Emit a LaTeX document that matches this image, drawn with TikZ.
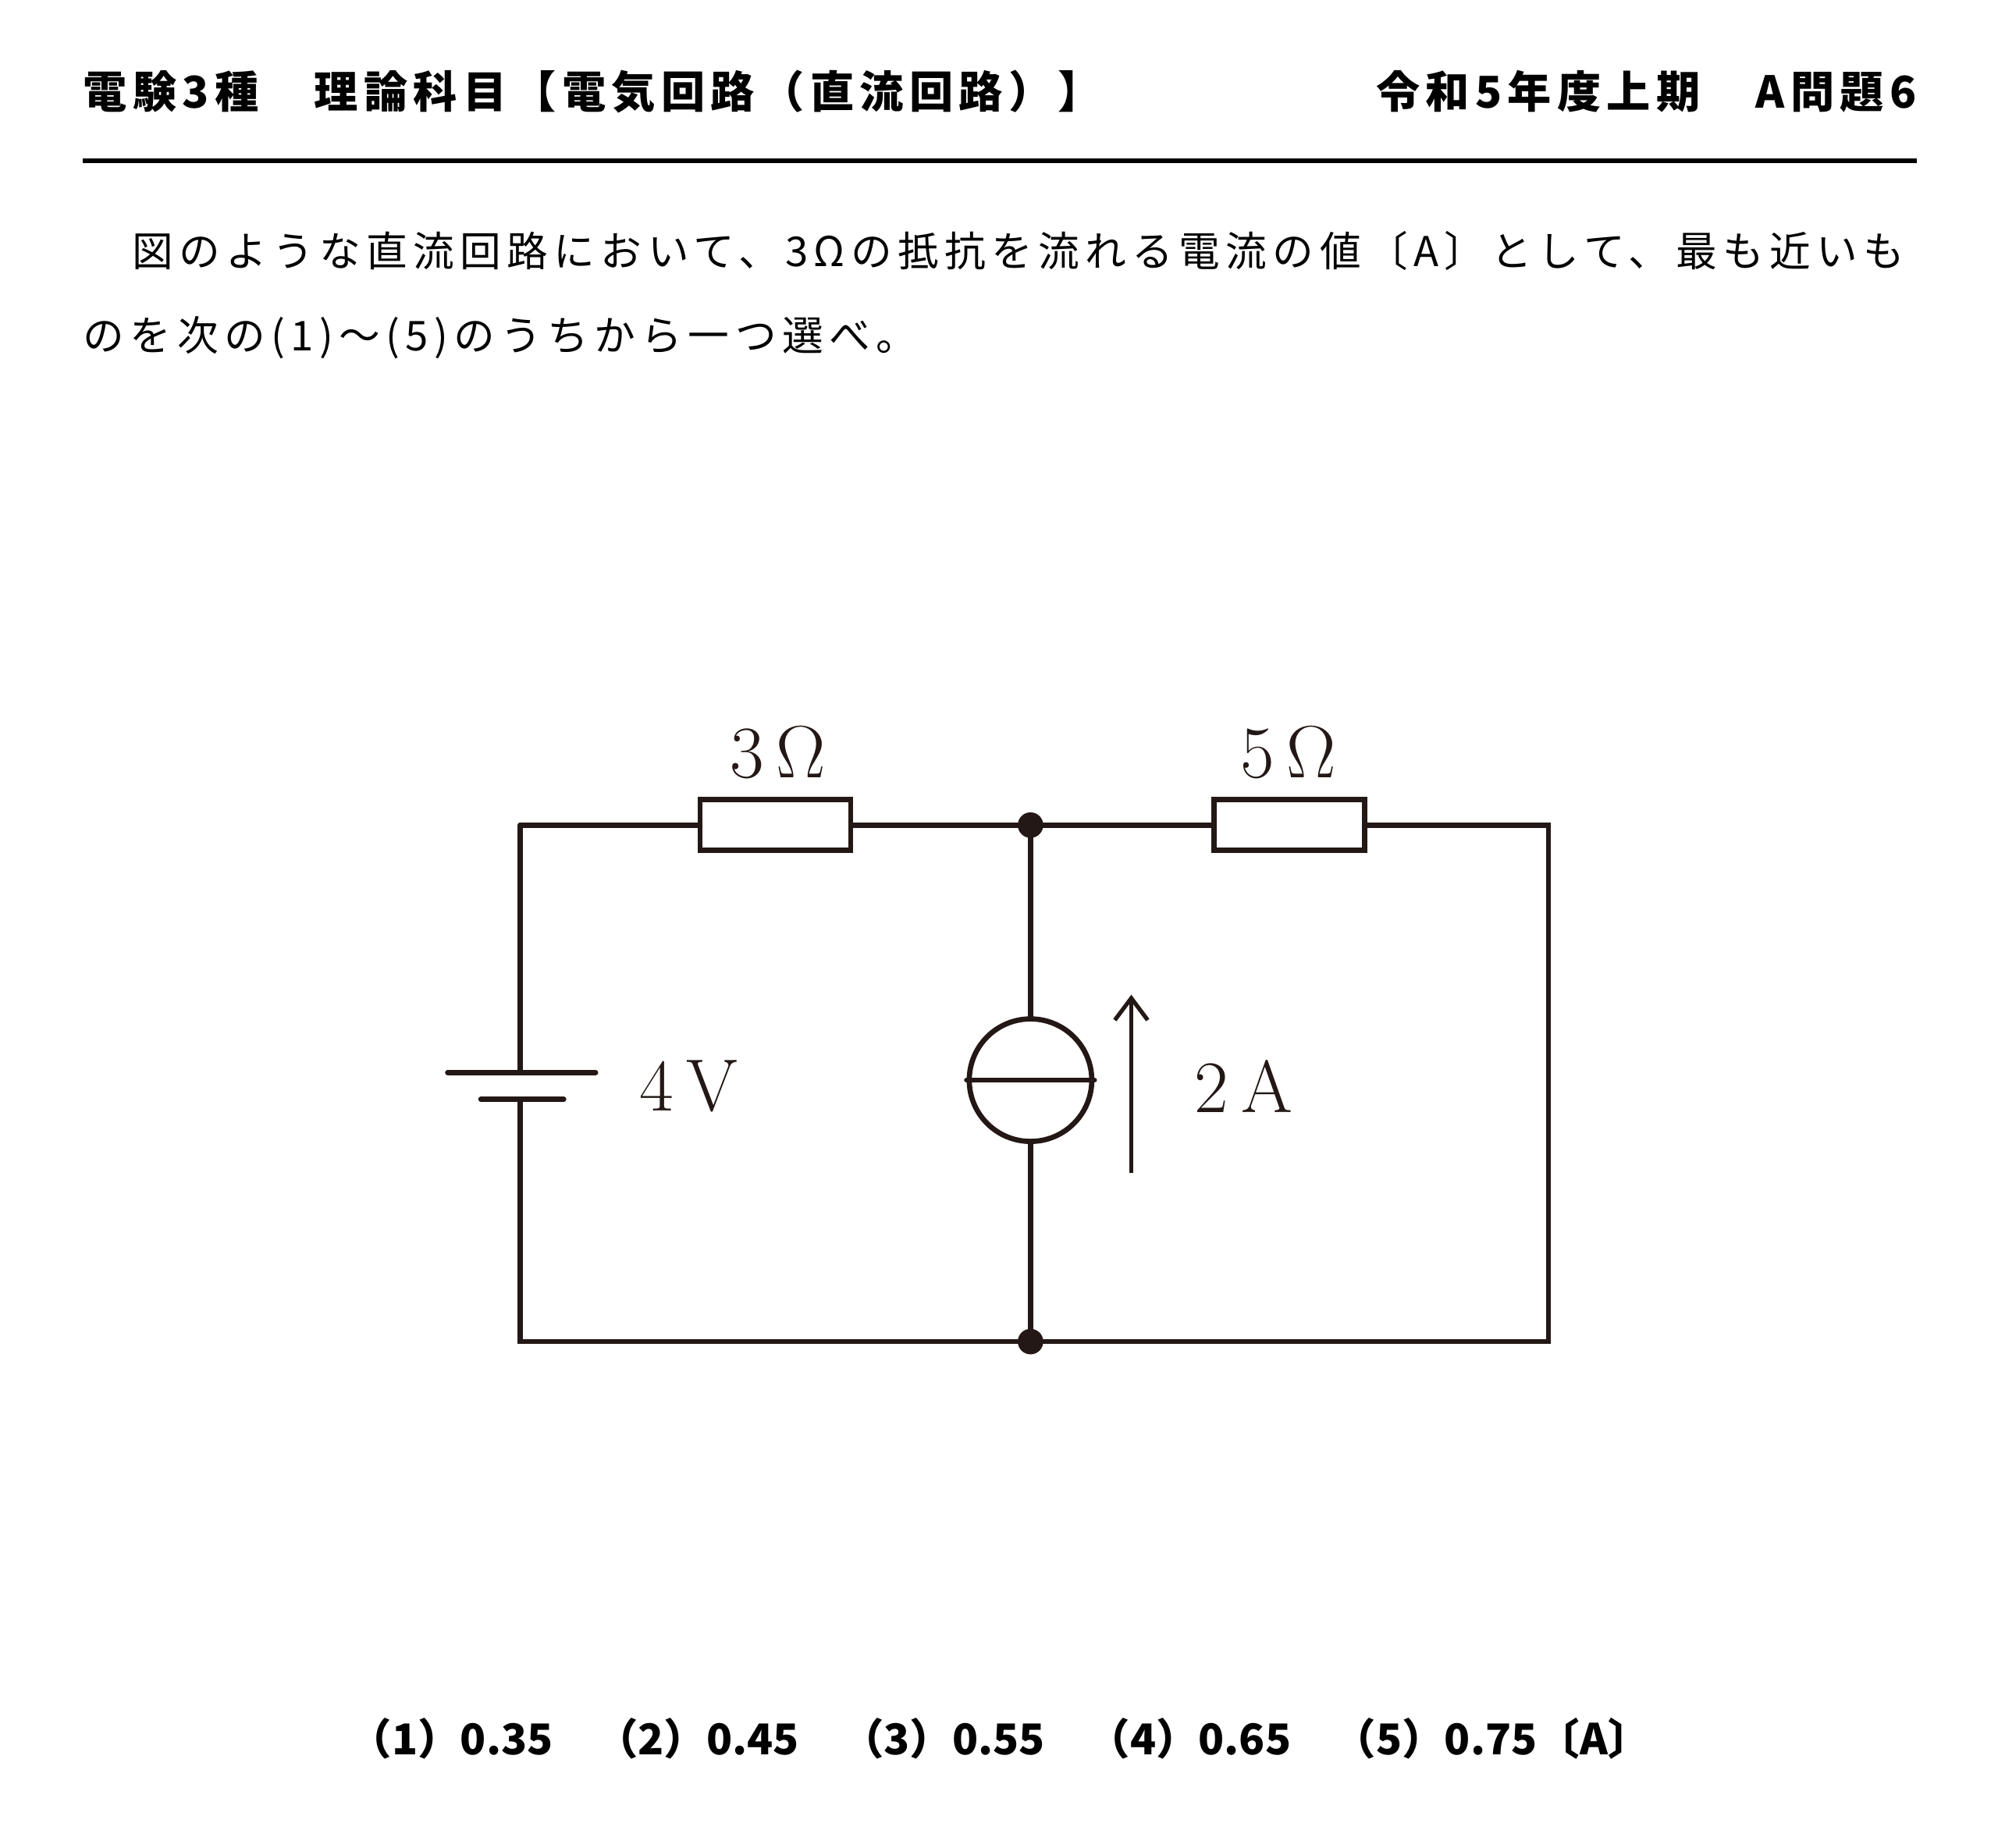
\documentclass[tikz,border=0pt]{standalone}
\usepackage{fontspec}
\usetikzlibrary{arrows.meta}
\setmainfont{Noto Sans CJK JP}
\newfontfamily\lm{Latin Modern Roman}
\definecolor{ink}{HTML}{231815}
\begin{document}
\begin{tikzpicture}[x=0.01634cm,y=-0.01634cm,
  wire/.style={ink,line width=1.9pt,line cap=round},
  lbl/.style={font=\lm\fontsize{27}{27}\selectfont,text=ink,inner sep=0pt},
  txt/.style={font=\addfontfeature{LetterSpace=14}\fontsize{15}{15}\selectfont,inner sep=0pt,anchor=west},
  hd/.style={font=\bfseries\addfontfeature{LetterSpace=13}\fontsize{16}{16}\selectfont,inner sep=0pt}]
\useasboundingbox (0,0) rectangle (1566.6,1448.6);
\node[hd,anchor=west] (h1) at (65,72) {電験3種　理論科目【電気回路（直流回路）】};
\node[hd,anchor=east] (h2) at (1503,72) {令和5年度上期　A問題6};
\draw[line width=1.6pt] (65,126) -- (1503,126);
\node[txt] (p1) at (103,197) {図のような直流回路において、3Ωの抵抗を流れる電流の値〔A〕として、最も近いも};
\node[txt] (p2) at (65,265) {のを次の(1)～(5)のうちから一つ選べ。};
\coordinate (tl) at (408,647); \coordinate (tm) at (808,647); \coordinate (tr) at (1214,647);
\coordinate (bl) at (408,1052); \coordinate (bm) at (808,1052); \coordinate (br) at (1214,1052);
\node[draw=ink,line width=1.9pt,inner sep=0pt,minimum width=1.93cm,minimum height=0.65cm] (r3) at (608,647) {};
\node[draw=ink,line width=1.9pt,inner sep=0pt,minimum width=1.93cm,minimum height=0.65cm] (r5) at (1011,647) {};
\node[circle,draw=ink,line width=1.9pt,minimum size=1.57cm,inner sep=0pt] (cs) at (808,847) {};
\coordinate (bt) at (408,841); \coordinate (bb) at (408,862);
\draw[wire] (tl) -- (r3.west) (r3.east) -- (tm) -- (r5.west) (r5.east) -- (tr) -- (br) -- (bm) -- (bl) -- (bb);
\draw[wire] (tl) -- (bt);
\draw[wire] (351,841) -- (467,841) (377,862) -- (442,862);
\draw[wire] (tm) -- (cs.north) (cs.south) -- (bm) (cs.west) -- (cs.east);
\fill[ink] (tm) circle (10) (bm) circle (10);
\coordinate (a1) at (887,920); \coordinate (a2) at (887,780);
\draw[ink,line width=1.5pt,-{Straight Barb[length=8pt,width=12pt]}] (a1) -- (a2);
\node[lbl] (l3) at (610,590) {3\,Ω};
\node[lbl] (l5) at (1010,590) {5\,Ω};
\node[lbl] (l4) at (540,852) {4\,V};
\node[lbl] (l2) at (975,852) {2\,A};
\node[hd,font=\bfseries\fontsize{15.5}{15.5}\selectfont] (ans) at (784,1363) {（1）0.35　（2）0.45　（3）0.55　（4）0.65　（5）0.75〔A〕};
\end{tikzpicture}
\end{document}
